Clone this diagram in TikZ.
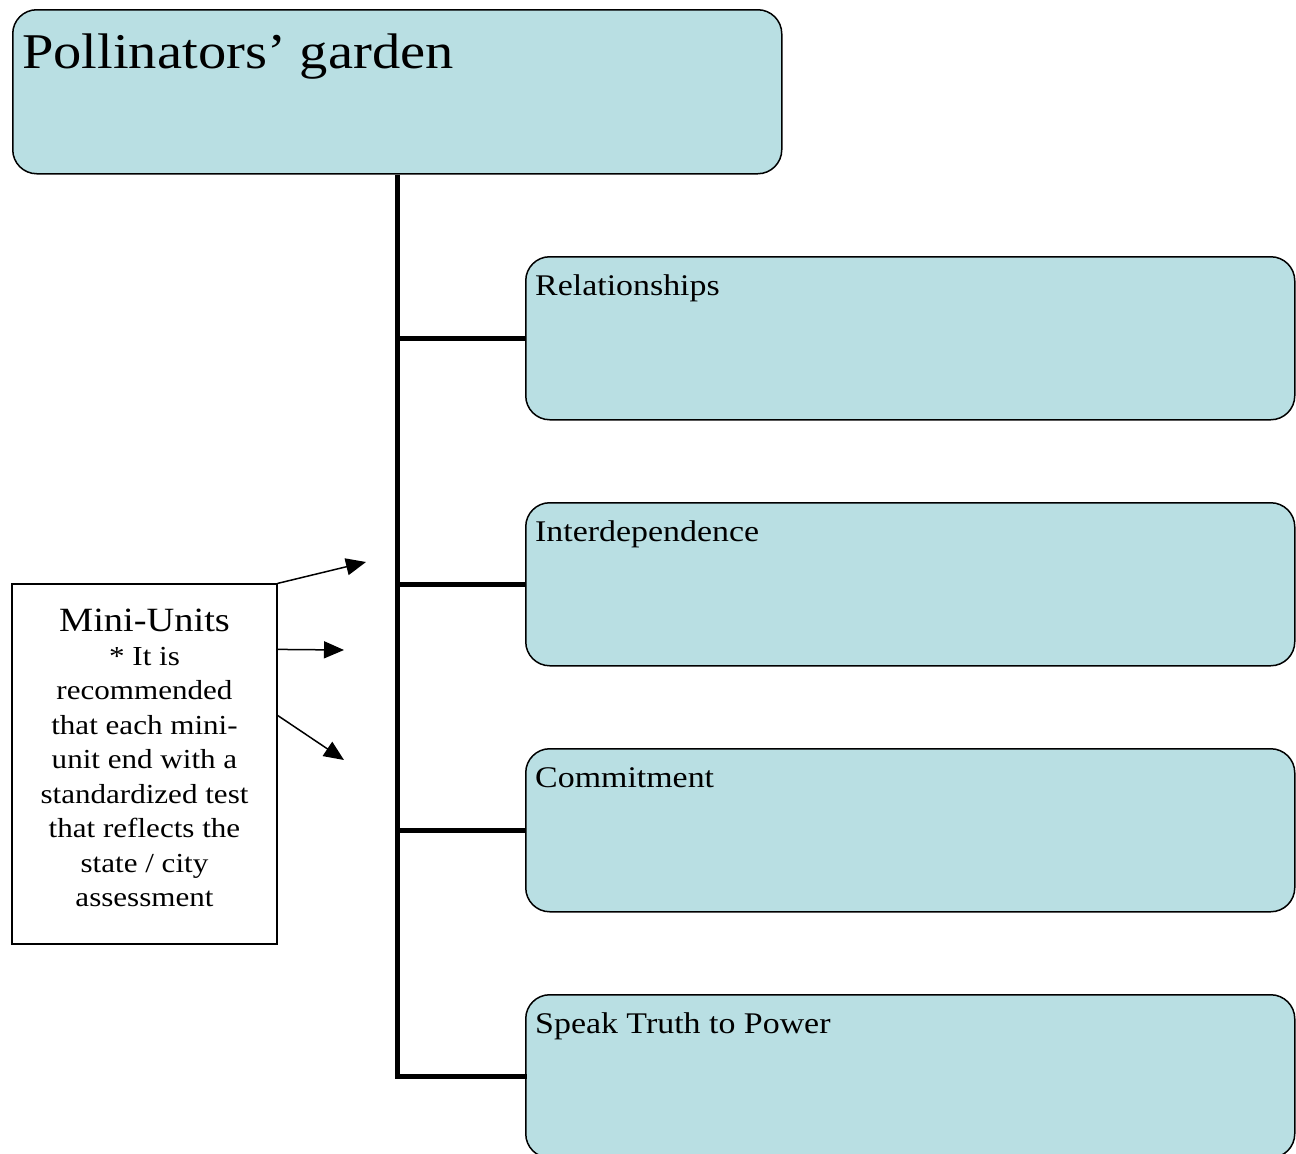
\documentclass[tikz,border=0pt]{standalone}
\usepackage{fontspec}
\setmainfont{Liberation Serif}[FakeStretch=1.13]
\usetikzlibrary{arrows.meta,calc}
\definecolor{boxfill}{HTML}{B9DFE3}
\begin{document}
\begin{tikzpicture}[x=1pt,y=-1pt,
  topic/.style={draw=black,line width=1.5pt,fill=boxfill,rounded corners=24pt,
    minimum width=769pt,minimum height=163pt,inner sep=0pt,anchor=north west},
  boxlabel/.style={anchor=base west,inner sep=0pt,font=\fontsize{30}{36}\selectfont},
  trunk/.style={line width=4.5pt},
  pointer/.style={line width=1.5pt,-{Triangle[length=20pt,width=17pt]}}]
\useasboundingbox (0,0) rectangle (1296,1154);
\node[topic,minimum height=164pt] (top) at (12,9) {};
\node[boxlabel,font=\fontsize{50}{56}\selectfont] (toplbl) at (22,68) {Pollinators’ garden};
\node[topic] (b1) at (525,256) {};
\node[topic] (b2) at (525,502) {};
\node[topic] (b3) at (525,748) {};
\node[topic] (b4) at (525,994) {};
\node[boxlabel] (l1) at (535,295) {Relationships};
\node[boxlabel] (l2) at (535,541) {Interdependence};
\node[boxlabel] (l3) at (535,787) {Commitment};
\node[boxlabel] (l4) at (535,1033) {Speak Truth to Power};
\coordinate (tend) at (top.south |- b4.west);
\draw[trunk] (top.south) -- (tend);
\draw[trunk] (top.south |- b1.west) -- (b1.west);
\draw[trunk] (top.south |- b2.west) -- (b2.west);
\draw[trunk] (top.south |- b3.west) -- (b3.west);
\draw[trunk,line cap=rect] (tend) -- (b4.west);
\node[draw=black,line width=1.2pt,fill=white,minimum width=265pt,minimum height=360pt,inner sep=0pt] (mini) at (144.5,764) {};
\node[anchor=north,align=center,inner sep=0pt,font=\fontsize{27.5}{34.5}\selectfont] (minitxt) at (144.5,609)
  {{\fontsize{34}{40}\selectfont Mini-Units}\\[-1pt]* It is\\recommended\\that each mini-\\unit end with a\\standardized test\\that reflects the\\state / city\\assessment};
\coordinate (a1) at (366,562);
\coordinate (a2) at (344,650);
\coordinate (a3) at (344,760);
\draw[pointer] (mini.north east) -- (a1);
\draw[pointer] ([yshift=-66pt]mini.north east) -- (a2);
\draw[pointer] ([yshift=-132pt]mini.north east) -- (a3);
\end{tikzpicture}
\end{document}
